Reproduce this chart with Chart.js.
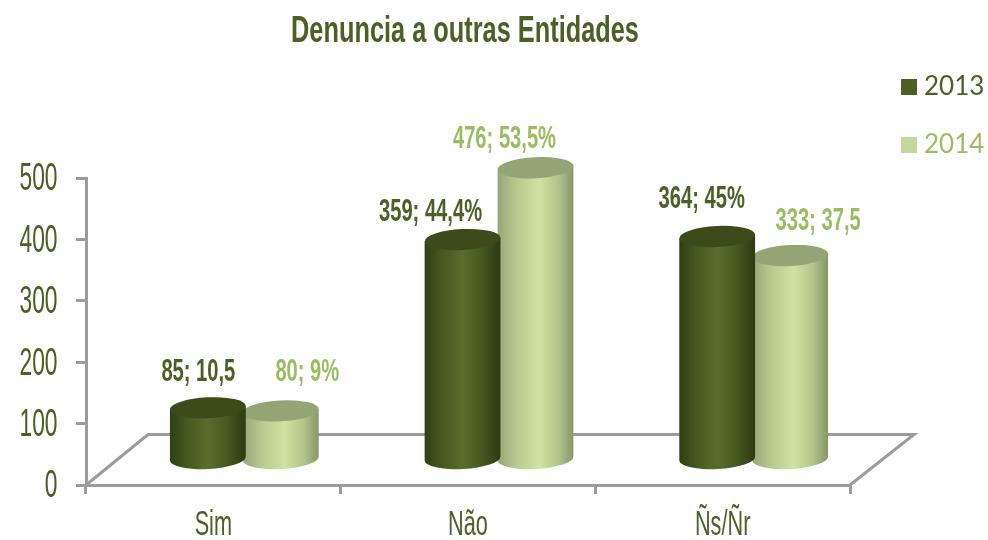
<!DOCTYPE html>
<html><head><meta charset="utf-8">
<style>html,body{margin:0;padding:0;background:#fff}#w{width:988px;height:540px;position:relative}canvas{display:block}</style>
<script src="https://cdn.jsdelivr.net/npm/chart.js@4"></script></head>
<body><div id="w"><canvas id="c" width="988" height="540"></canvas></div>
<script>
const categories = ['Sim', 'Não', 'Ñs/Ñr'];
const seriesNames = ['2013', '2014'];
const values2013 = [85, 359, 364];
const values2014 = [80, 476, 333];
const labels2013 = ['85; 10,5', '359; 44,4%', '364; 45%'];
const labels2014 = ['80; 9%', '476; 53,5%', '333; 37,5'];
const titleText = 'Denuncia a outras Entidades';
const DARK = '#4d5f25', LIGHT = '#9dbb61', AXIS = '#9c9c9c';
const SANS = '"Liberation Sans",Arial,sans-serif';
const palettes = [
 {stops:[[0,'#2f3f14'],[0.22,'#45581f'],[0.5,'#5a6c2e'],[0.75,'#46591f'],[1,'#2c3a12']], top:'#3d4b1a', text:DARK},
 {stops:[[0,'#97a678'],[0.25,'#b8c98f'],[0.55,'#cee3a2'],[0.8,'#b3c48b'],[1,'#869668']], top:'#94a475', text:LIGHT}
];
const OFF = {x:31, y:-25};
const TILT = -0.05, RY = 10.5;
// hand placement of the value labels relative to each cylinder top
const NUDGE = [
 [[-9.5,-36],[-32,-28],[-15.5,-38]],
 [[26.5,-39],[-31,-29],[28,-35]]
];
function narrow(ctx,text,x,y,font,sx,align,color){
 ctx.save();
 ctx.font=font; ctx.fillStyle=color; ctx.textBaseline='middle'; ctx.textAlign=align;
 ctx.translate(x,y+2); ctx.scale(sx,1);
 ctx.fillText(text,0,0);
 ctx.restore();
}
const cyl = {
 id:'cyl',
 beforeDatasetDraw(chart, args){
  const ctx = chart.ctx, p = palettes[args.index];
  ctx.save(); ctx.translate(OFF.x, OFF.y);
  args.meta.data.forEach(el=>{
   const {x,y,base,width} = el.getProps(['x','y','base','width'],true);
   const a=width/2, dx=a*Math.cos(TILT), dy=a*Math.sin(TILT);
   const g=ctx.createLinearGradient(x-a,0,x+a,0);
   p.stops.forEach(s=>g.addColorStop(s[0],s[1]));
   ctx.fillStyle=g;
   ctx.beginPath();
   ctx.moveTo(x-dx,y-dy);
   ctx.lineTo(x-dx,base-dy);
   ctx.ellipse(x,base,a,RY,TILT,Math.PI,0,true);
   ctx.lineTo(x+dx,y+dy);
   ctx.closePath();
   ctx.fill();
   ctx.fillStyle=p.top;
   ctx.beginPath();
   ctx.ellipse(x,y,a,RY,TILT,0,Math.PI*2);
   ctx.fill();
  });
  ctx.restore();
  return false;
 },
 beforeDatasetsDraw(chart){
  const ctx=chart.ctx, xs=chart.scales.x;
  const bl=xs.left, br=xs.right, by=xs.top;
  ctx.save();
  ctx.strokeStyle=AXIS; ctx.lineWidth=3; ctx.lineJoin='miter';
  ctx.beginPath();
  ctx.moveTo(bl,by); ctx.lineTo(bl+62,by-50.5); ctx.lineTo(br+64,by-50.5); ctx.lineTo(br,by);
  ctx.stroke();
  ctx.restore();
 },
 afterDraw(chart){
  const ctx=chart.ctx, xs=chart.scales.x, ys=chart.scales.y;
  narrow(ctx,titleText,465,30,'bold 37px '+SANS,0.685,'center',DARK);
  ys.ticks.forEach((t,i)=>{
   narrow(ctx,String(t.value),57.5,ys.getPixelForTick(i),'38px '+SANS,0.6,'right',DARK);
  });
  categories.forEach((c,i)=>{
   narrow(ctx,c,xs.getPixelForTick(i),523,'35px '+SANS,0.62,'center',DARK);
  });
  [labels2013,labels2014].forEach((arr,i)=>{
   const m=chart.getDatasetMeta(i);
   arr.forEach((t,j)=>{
    const el=m.data[j];
    narrow(ctx,t,el.x+OFF.x+NUDGE[i][j][0],el.y+OFF.y+NUDGE[i][j][1]-1,'bold 31px '+SANS,0.65,'center',palettes[i].text);
   });
  });
  ctx.save();
  ctx.textAlign='left'; ctx.textBaseline='middle';
  ctx.font='26px Lato,"Open Sans",sans-serif';
  seriesNames.forEach((n,i)=>{
   const yy=87+58*i;
   ctx.fillStyle=i?'#c3d69b':DARK;
   ctx.fillRect(901,yy-8,16,16);
   ctx.fillStyle=i?LIGHT:DARK;
   ctx.fillText(n,924,yy);
  });
  ctx.restore();
 }
};
new Chart(document.getElementById('c'),{
 type:'bar',
 data:{labels:categories,datasets:[
  {label:seriesNames[0],data:values2013,backgroundColor:DARK,barPercentage:1.04,categoryPercentage:0.573},
  {label:seriesNames[1],data:values2014,backgroundColor:LIGHT,barPercentage:1.04,categoryPercentage:0.573}
 ]},
 plugins:[cyl],
 options:{
  responsive:false,animation:false,
  layout:{padding:{left:0,right:138,top:178,bottom:0}},
  plugins:{legend:{display:false},tooltip:{enabled:false},title:{display:false}},
  scales:{
   x:{
    afterFit(s){s.height=55;},
    grid:{drawOnChartArea:false,color:AXIS,lineWidth:3,tickLength:9,offset:true},
    border:{color:AXIS,width:3},
    ticks:{display:false}
   },
   y:{
    min:0,max:500,
    afterFit(s){s.width=86;},
    grid:{drawOnChartArea:false,color:AXIS,lineWidth:3,tickLength:10},
    border:{color:AXIS,width:3},
    ticks:{display:false,stepSize:100}
   }
  }
 }
});
</script></body></html>
